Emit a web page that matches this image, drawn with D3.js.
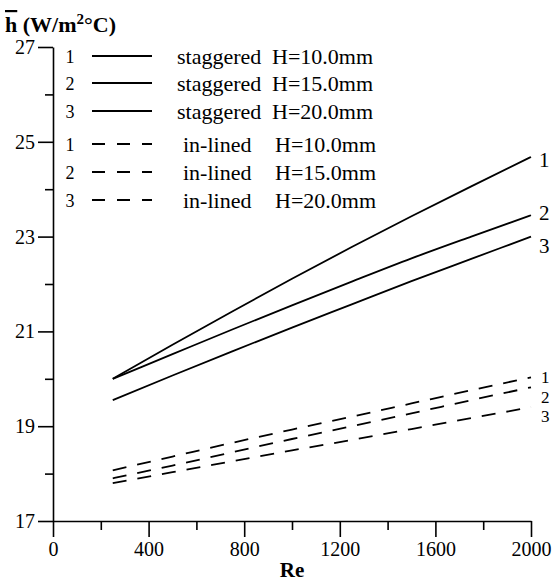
<!DOCTYPE html>
<html>
<head>
<meta charset="utf-8">
<script src="https://cdn.jsdelivr.net/npm/d3@7"></script>
<style>
  body { margin: 0; background: #fff; }
  text { font-family: "Liberation Serif", "Times New Roman", serif; fill: #000; }
</style>
</head>
<body>
<div id="chart"></div>
<script>
// data
var reValues = [250, 500, 750, 1000, 1250, 1500, 1750, 2000];
var stag10 = [20.0, 20.72, 21.42, 22.11, 22.78, 23.43, 24.06, 24.68];
var stag15 = [20.0, 20.52, 21.04, 21.55, 22.05, 22.54, 23.0, 23.45];
var stag20 = [19.55, 20.07, 20.58, 21.08, 21.57, 22.06, 22.53, 23.0];
var inl10 = [18.07, 18.36, 18.65, 18.93, 19.2, 19.48, 19.76, 20.03];
var inl15 = [17.9, 18.17, 18.45, 18.73, 19.0, 19.27, 19.55, 19.82];
var inl20 = [17.8, 18.03, 18.26, 18.49, 18.71, 18.94, 19.17, 19.4];

var xMajor = [0, 400, 800, 1200, 1600, 2000];
var xMinor = [200, 600, 1000, 1400, 1800];
var yMajor = [17, 19, 21, 23, 25, 27];
var yMinor = [18, 20, 22, 24, 26];

var legendNums = ["1", "2", "3", "1", "2", "3"];
var legendTypes = ["staggered", "staggered", "staggered", "in-lined", "in-lined", "in-lined"];
var legendH = ["H=10.0mm", "H=15.0mm", "H=20.0mm", "H=10.0mm", "H=15.0mm", "H=20.0mm"];

var series = [
  {vals: stag10, dashed: false, label: "1"},
  {vals: stag15, dashed: false, label: "2"},
  {vals: stag20, dashed: false, label: "3"},
  {vals: inl10, dashed: true, label: "1"},
  {vals: inl15, dashed: true, label: "2"},
  {vals: inl20, dashed: true, label: "3"}
];

var width = 555, height = 583;
var svg = d3.select("#chart").append("svg")
  .attr("width", width)
  .attr("height", height);

var x = d3.scaleLinear().domain([0, 2000]).range([53, 531]);
var y = d3.scaleLinear().domain([17, 27]).range([521, 47]);

// axes
function styleAxis(g) {
  g.selectAll("path.domain").attr("stroke", "#000").attr("stroke-width", 1.6);
  g.selectAll(".tick line").attr("stroke", "#000").attr("stroke-width", 1.6);
  g.selectAll(".tick text")
    .attr("font-family", "Liberation Serif, Times New Roman, serif")
    .attr("font-size", 20).attr("fill", "#000");
}

var gx = svg.append("g").attr("transform", "translate(0," + y(17) + ")")
  .call(d3.axisBottom(x).tickValues(xMajor).tickSize(16).tickSizeOuter(0).tickPadding(5).tickFormat(d3.format("d")));
styleAxis(gx);
var gxMin = svg.append("g").attr("transform", "translate(0," + y(17) + ")")
  .call(d3.axisBottom(x).tickValues(xMinor).tickSize(9).tickFormat(""));
gxMin.select("path.domain").remove();
styleAxis(gxMin);

var gy = svg.append("g").attr("transform", "translate(" + x(0) + ",0)")
  .call(d3.axisLeft(y).tickValues(yMajor).tickSize(15).tickSizeOuter(0).tickPadding(3).tickFormat(d3.format("d")));
styleAxis(gy);
var gyMin = svg.append("g").attr("transform", "translate(" + x(0) + ",0)")
  .call(d3.axisLeft(y).tickValues(yMinor).tickSize(8).tickFormat(""));
gyMin.select("path.domain").remove();
styleAxis(gyMin);

// lines
var line = d3.line()
  .curve(d3.curveMonotoneX)
  .x(function(d, i) { return x(reValues[i]); })
  .y(function(d) { return y(d); });

svg.selectAll(".series").data(series).enter().append("path")
  .attr("class", "series")
  .attr("d", function(s) { return line(s.vals); })
  .attr("fill", "none")
  .attr("stroke", "#000")
  .attr("stroke-width", 1.8)
  .attr("stroke-dasharray", function(s) { return s.dashed ? "14,11" : null; });

// end labels (offset from the line end, in px)
var endOffsets = [10, 5, 16, 6, 16, 15];
svg.selectAll(".endlab").data(series).enter().append("text")
  .attr("class", "endlab")
  .attr("x", function(s) { return s.dashed ? 541 : 539; })
  .attr("y", function(s, i) { return y(s.vals[s.vals.length - 1]) + endOffsets[i]; })
  .attr("font-size", function(s) { return s.dashed ? 17 : 21; })
  .text(function(s) { return s.label; });

// legend
var legendY = [57, 84, 112, 145, 173, 201];
var lg = svg.append("g");
legendNums.forEach(function(n, i) {
  lg.append("text").attr("x", 70).attr("y", legendY[i] + 6)
    .attr("text-anchor", "middle").attr("font-size", 18).text(n);
  lg.append("line").attr("x1", 92).attr("x2", 152)
    .attr("y1", legendY[i] - 1).attr("y2", legendY[i] - 1)
    .attr("stroke", "#000").attr("stroke-width", 1.8)
    .attr("stroke-dasharray", i >= 3 ? "13,12" : null);
  lg.append("text").attr("x", i >= 3 ? 183 : 177).attr("y", legendY[i] + 7)
    .attr("font-size", 22).text(legendTypes[i]);
  lg.append("text").attr("x", i >= 3 ? 275 : 272).attr("y", legendY[i] + 7)
    .attr("font-size", 22).text(legendH[i]);
});

// axis titles
var title = svg.append("text").attr("x", 5).attr("y", 32)
  .attr("font-size", 22).attr("font-weight", "bold");
title.append("tspan").attr("text-decoration", "overline").style("text-decoration", "overline").text("h");
title.append("tspan").text(" (W/m");
title.append("tspan").attr("dy", -8).attr("font-size", 15).text("2");
title.append("tspan").attr("dy", 8).text("\u00B0C)");

svg.append("text").attr("x", 292).attr("y", 577)
  .attr("text-anchor", "middle").attr("font-size", 21).attr("font-weight", "bold")
  .text("Re");
</script>
</body>
</html>
